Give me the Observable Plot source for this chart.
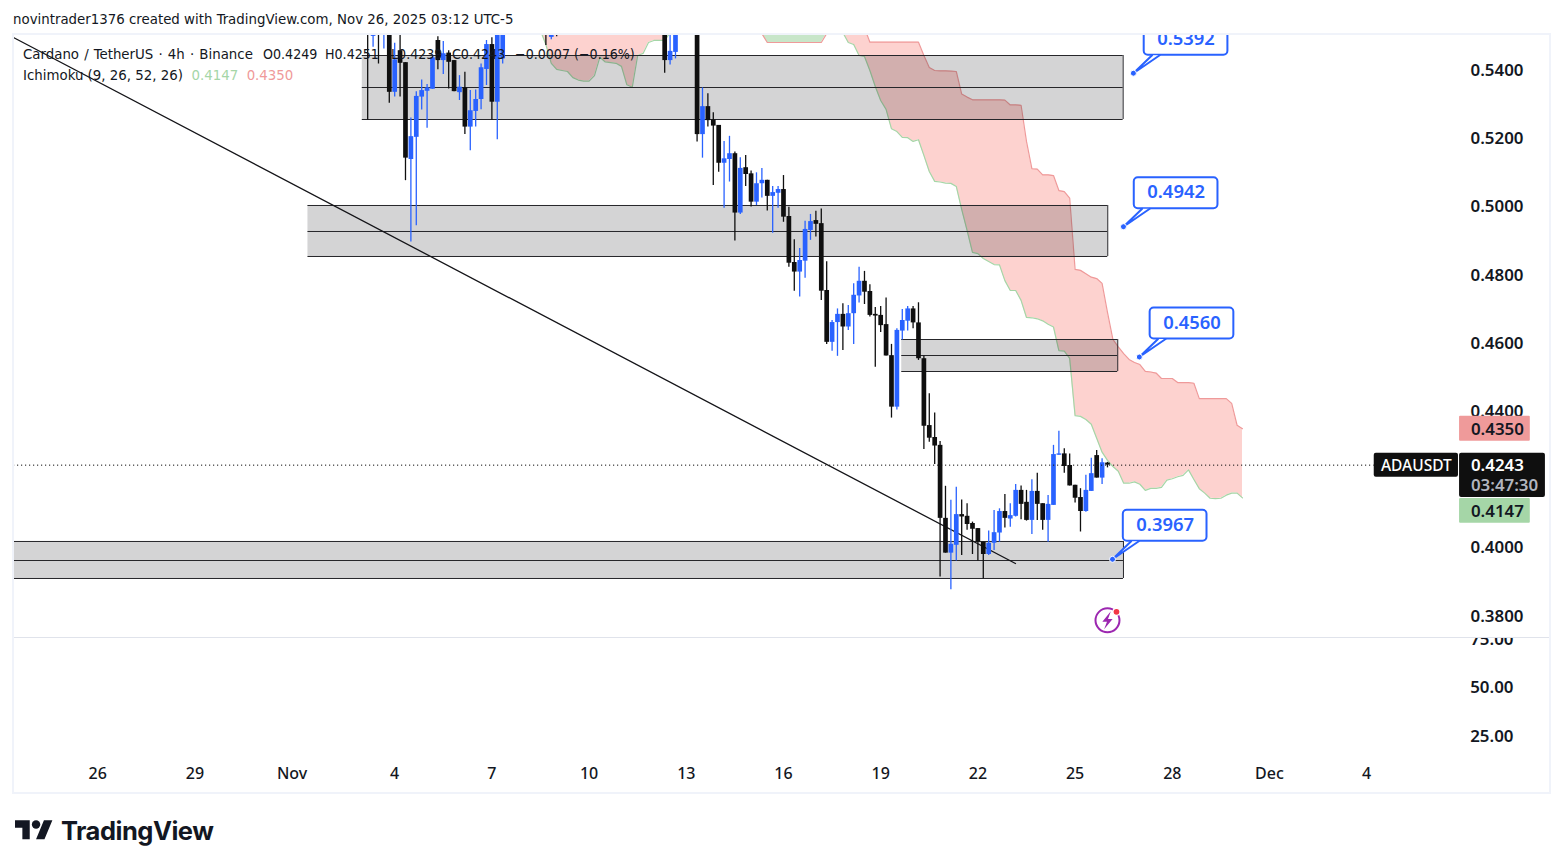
<!DOCTYPE html>
<html>
<head>
<meta charset="utf-8">
<script src="https://cdn.jsdelivr.net/npm/d3@7"></script>
<script src="https://cdn.jsdelivr.net/npm/@observablehq/plot@0.6"></script>
<style>
html,body{margin:0;padding:0;background:#fff;overflow:hidden}
#page{position:relative;width:1563px;height:868px;font-family:"Noto Sans",sans-serif;color:#131722}
#page svg{display:block}
#main{position:absolute;left:0;top:34px}
#lower{position:absolute;left:0;top:637px}
#frame{position:absolute;left:12px;top:33px;width:1535px;height:757px;border:2px solid #f0f3fa;pointer-events:none}
#sep{position:absolute;left:14px;width:1535px;top:637px;height:1px;background:#e0e3eb}
.t{position:absolute;white-space:pre;font-family:"DejaVu Sans Condensed","Noto Sans",sans-serif;font-size:14.85px;line-height:18px}
.v{font-size:14.1px}
#logo{position:absolute;left:15px;top:816px}
#word{position:absolute;left:61px;top:813px;font:700 25.5px/36px Inter,sans-serif;color:#131722;letter-spacing:-.5px}
</style>
</head>
<body>
<div id="page">
  <div class="t" style="left:13px;top:10px">novintrader1376 created with TradingView.com, Nov 26, 2025 03:12 UTC-5</div>
  <div id="main"></div>
  <div id="lower"></div>
  <div id="sep"></div>
  <div id="frame"></div>
  <div class="t" style="left:23px;top:45px;word-spacing:.9px">Cardano / TetherUS · 4h · Binance</div>
  <div class="t v" style="left:263px;top:45px">O0.4249</div>
  <div class="t v" style="left:325px;top:45px">H0.4251</div>
  <div class="t v" style="left:391px;top:45px">L0.4239</div>
  <div class="t v" style="left:452px;top:45px">C0.4243</div>
  <div class="t v" style="left:515px;top:45px">−0.0007 (−0.16%)</div>
  <div class="t" style="left:23px;top:66px">Ichimoku (9, 26, 52, 26)  <span style="color:#a5d6a7">0.4147</span>  <span style="color:#ef9a9a">0.4350</span></div>
  <svg id="logo" width="40" height="28" viewBox="0 0 38 26.4"><path fill="#131722" d="M14 22H7V11H0V4h14v18zM28 22h-8l7.5-18h8L28 22z"/><circle fill="#131722" cx="20" cy="8" r="4"/></svg>
  <div id="word">TradingView</div>
</div>
<script>
const candleBars = [-137,-136,-135,-134,-133,-132,-131,-130,-129,-128,-127,-126,-125,-124,-123,-122,-121,-120,-119,-118,-117,-116,-115,-114,-113,-112,
  -104,-103,-102,-82,-81,-80,
  -76,-75,-74,-73,-72,-71,-70,-69,-68,-67,-66,-65,-64,-63,-62,-61,-60,-59,-58,-57,-56,-55,-54,-53,-52,-51,-50,-49,-48,-47,-46,-45,-44,-43,-42,-41,-40,-39,-38,-37,-36,-35,-34,-33,-32,-31,-30,-29,-28,-27,-26,-25,-24,-23,-22,-21,-20,-19,-18,-17,-16,-15,-14,-13,-12,-11,-10,-9,-8,-7,-6,-5,-4,-3,-2,-1,0];
const candleOpen = [.556,.5500,.558,.553,.556,.5336,.5458,.5423,.5139,.5204,.5322,.5339,.5345,.5488,.5429,.5451,.5429,.5335,.5349,.5234,.5280,.5315,.5403,.5476,.5307,.5434,
  .556,.5497,.556,.556,.5429,.5453,
  .556,.5212,.5294,.5255,.5239,.5128,.5139,.5156,.4982,.5115,.5097,.5014,.5068,.5078,.5031,.5040,.5051,.4972,.4837,.4809,.4841,.4931,.4960,.4951,.4755,.4603,.4661,.4685,.4648,.4687,.4739,.4782,.4752,.4685,.4682,.4655,.4564,.4413,.4636,.4665,.4701,.4660,.4555,.4359,.4324,.4301,.4087,.3985,.4008,.4098,.4093,.4072,.4057,.4017,.3981,.4014,.4044,.4107,.4085,.4093,.4169,.4134,.4081,.4166,.4130,.4081,.4125,.4272,.4276,.4242,.4184,.4148,.4107,.4166,.4271,.4205,.4249];
const candleHigh = [.558,.558,.56,.56,.558,.5480,.552,.5423,.5261,.5338,.5372,.5359,.5445,.5499,.5485,.5458,.5429,.5385,.5395,.5341,.5343,.5419,.5488,.5496,.56,.56,
  .558,.558,.558,.558,.556,.558,
  .558,.5349,.5332,.5276,.5239,.5192,.5207,.5161,.5144,.5151,.5105,.5100,.5113,.5078,.5060,.5060,.5092,.4999,.4904,.4878,.4958,.4978,.4987,.4994,.4839,.4667,.4701,.4716,.4711,.4775,.4823,.4811,.4772,.4705,.4708,.4733,.4597,.4643,.4699,.4708,.4708,.4719,.4562,.4452,.4396,.4312,.4181,.4140,.4178,.4141,.4130,.4076,.4057,.4017,.4050,.4110,.4115,.4157,.4130,.4186,.4182,.4169,.4200,.4219,.4130,.4154,.4301,.4342,.4291,.4276,.4184,.4174,.4213,.4263,.4286,.4262,.4251];
const candleLow = [.5255,.5468,.5419,.5463,.5304,.5322,.5322,.5077,.4897,.4945,.5284,.5231,.5345,.5402,.5388,.5346,.5338,.5312,.5212,.5165,.5234,.5285,.5356,.5255,.5197,.5419,
  .5473,.5490,.5499,.5392,.5416,.5434,
  .5190,.5143,.5234,.5063,.5102,.4996,.5073,.4900,.4978,.5060,.5000,.5004,.5026,.4988,.4923,.4996,.4955,.4823,.4753,.4736,.4791,.4902,.4912,.4726,.4597,.4577,.4562,.4579,.4638,.4597,.4718,.4714,.4677,.4530,.4632,.4563,.4381,.4405,.4610,.4636,.4643,.4550,.4289,.4310,.4245,.3915,.3985,.3878,.3962,.3978,.4052,.3981,.3962,.3910,.3978,.3993,.4017,.4059,.4061,.4091,.4083,.4079,.4040,.4081,.4052,.4017,.4125,.4272,.4219,.4182,.4132,.4047,.4105,.4166,.4205,.4186,.4235];
const candleClose = [.5503,.556,.553,.558,.5336,.5431,.5421,.5143,.5206,.5324,.5341,.5349,.5437,.5429,.5449,.5424,.5338,.5351,.5234,.5282,.5315,.5408,.5476,.5307,.556,.556,
  .5503,.556,.5525,.5429,.5456,.556,
  .5212,.5294,.5253,.5237,.5128,.5141,.5156,.4982,.5113,.5095,.5014,.5068,.5078,.5031,.5042,.5051,.4970,.4835,.4809,.4843,.4934,.4957,.4949,.4753,.4603,.4661,.4685,.4648,.4687,.4741,.4782,.4750,.4682,.4680,.4652,.4563,.4413,.4638,.4667,.4701,.4660,.4555,.4357,.4322,.4299,.4087,.3985,.4011,.4098,.4091,.4069,.4055,.4017,.3981,.4014,.4045,.4107,.4087,.4095,.4169,.4128,.4081,.4166,.4128,.4081,.4128,.4274,.4276,.4239,.4182,.4146,.4107,.4169,.4218,.4205,.4250,.4243];

const leftCloudBars = [-105,-104,-103,-102,-101,-100,-99,-98,-97,-96,-95,-94,-93,-92,-91,-90,-89,-88,-87,-86,-85,-84,-83,-82,-81];
const leftCloudLower = [.5517,.5476,.5421,.5403,.5400,.5397,.5379,.5372,.5369,.5369,.5385,.5439,.5425,.5423,.5421,.5412,.5358,.5351,.5444,.5450,.5482,.5488,.5488,.5488,.5511];
const greenCloudBars = [-64,-63,-62,-61,-60,-59,-58,-57,-56,-55,-54,-53,-52];
const greenCloudLower = [.5508,.5482,.5482,.5482,.5482,.5482,.5482,.5482,.5482,.5482,.5482,.5482,.5508];
const cloudTopOffPane = .56;

const spanBars = [-49,-48,-47,-46,-45,-44,-43,-42,-41,-40,-39,-38,-37,-36,-35,-34,-33,-32,-31,-30,-29,-28,-27,-26,-25,-24,-23,-22,-21,-20,-19,-18,-17,-16,-15,-14,-13,-12,-11,-10,-9,-8,-7,-6,-5,-4,-3,-2,-1,0,1,2,3,4,5,6,7,8,9,10,11,12,13,14,15,16,17,18,19,20,21,22,23,24,25];
const spanA = [.5511,.5482,.5476,.5444,.5441,.5400,.5353,.5312,.5286,.5229,.5221,.5204,.5203,.5192,.5197,.5151,.5104,.5075,.5073,.5070,.5069,.5060,.4993,.4931,.4867,.4863,.4849,.4840,.4831,.4830,.4784,.4755,.4755,.4726,.4676,.4675,.4672,.4666,.4656,.4648,.4579,.4577,.4556,.4388,.4386,.4377,.4363,.4322,.4281,.4257,.4239,.4225,.4190,.4190,.4194,.4187,.4169,.4175,.4175,.4178,.4199,.4203,.4209,.4213,.4229,.4201,.4174,.4161,.4146,.4145,.4146,.4155,.4161,.4161,.4147];
const spanB = [.56,.56,.56,.56,.5525,.5483,.5483,.5483,.5483,.5483,.5483,.5483,.5483,.5483,.5483,.5444,.5409,.5400,.5399,.5399,.5398,.5397,.5331,.5322,.5314,.5314,.5314,.5314,.5314,.5314,.5313,.5299,.5299,.5298,.5192,.5112,.5111,.5094,.5094,.5092,.5048,.5045,.5026,.4817,.4814,.4804,.4794,.4790,.4776,.4691,.4612,.4590,.4570,.4553,.4544,.4538,.4518,.4516,.4513,.4497,.4497,.4497,.4485,.4485,.4485,.4483,.4438,.4438,.4438,.4438,.4438,.4438,.4424,.4360,.4350];

const zoneStart = [-138,-148.06,-38.1,-220];
const zoneEnd = [2.9,0.05,1.9,2.96];
const zoneTop = [.54439,.50042,.46113,.40192];
const zoneMid = [.53501,.49280,.45644,.39634];
const zoneBottom = [.52563,.48547,.45175,.39107];

const trendBars = [-202.6,-17.04];
const trendPrices = [.54967,.39547];

const calloutBars = [4.8,2.96,5.9,0.93];
const calloutPrices = [.5392,.4942,.4560,.3967];
const calloutLabels = ["0.5392","0.4942","0.4560","0.3967"];

const priceTicks = [.38,.40,.44,.46,.48,.50,.52,.54];
const rsiTicks = [25,50,75];
const timeTickBars = [-187,-169,-151,-132,-114,-96,-78,-60,-42,-24,-6,12,30,48];
const timeTickLabels = ["26","29","Nov","4","7","10","13","16","19","22","25","28","Dec","4"];

const tagPrices = [.4350,.4243,.4147];
const tagLabels = ["0.4350","0.4243","0.4147"];
const lastPrice = .4243;
const symbolLabel = "ADAUSDT";
const countdown = "03:47:30";
const flashBar = 0;
const flashPrice = .3788;

const black = "#0f0f0f", blue = "#2962ff", ink = "#131722";
const uiFont = "Noto Sans";
const axisFont = {fontFamily: uiFont, fontSize: 16, fontWeight: 500};
const priceFont = {fontFamily: uiFont, fontSize: 16.9, fontWeight: 600};
const xDomain = [-202.59, 77.04];

const candles = candleBars.map((i, k) => ({i, o: candleOpen[k], h: candleHigh[k], l: candleLow[k], c: candleClose[k]}));
const candleColor = d => d.c >= d.o ? blue : black;
const leftCloud = leftCloudBars.map((i, k) => ({i, lo: leftCloudLower[k], hi: cloudTopOffPane}));
const greenCloud = greenCloudBars.map((i, k) => ({i, lo: greenCloudLower[k], hi: cloudTopOffPane}));
const mainCloud = spanBars.map((i, k) => ({i, lo: spanA[k], hi: spanB[k]}));
const zones = zoneStart.map((s, k) => ({s, e: zoneEnd[k], t: zoneTop[k], m: zoneMid[k], b: zoneBottom[k]}));
const trend = trendBars.map((i, k) => ({i, p: trendPrices[k]}));
const callouts = calloutBars.map((i, k) => ({i, p: calloutPrices[k], label: calloutLabels[k]}));
const pointers = callouts.flatMap(d => [
  {key: d.label, i: d.i + 3.46, p: d.p + .00528},
  {key: d.label, i: d.i, p: d.p},
  {key: d.label, i: d.i + 4.87, p: d.p + .00528}
]);
const tags = tagPrices.map((p, k) => ({p, label: tagLabels[k]}));

const boltSymbol = {draw(ctx, size) {
  const s = Math.sqrt(size / Math.PI) / 7;
  const pts = [[2.6,-7],[-4,1],[-.4,1],[-2.6,7],[4,-1],[.4,-1]];
  pts.forEach(([x, y], k) => k ? ctx.lineTo(x * s, y * s) : ctx.moveTo(x * s, y * s));
  ctx.closePath();
}};

const zoneInk = {stroke: "#26262a", strokeWidth: 1, clip: true};

const main = Plot.plot({
  width: 1563, height: 603,
  marginLeft: 13, marginRight: 40, marginTop: 0, marginBottom: 0,
  x: {type: "linear", domain: xDomain, axis: null},
  y: {type: "linear", domain: [.37377, .55055], axis: null},
  style: {background: "transparent", overflow: "hidden"},
  marks: [
    Plot.areaY(leftCloud, {x: "i", y1: "lo", y2: "hi", fill: "#fdd2cf", clip: true}),
    Plot.areaY(greenCloud, {x: "i", y1: "lo", y2: "hi", fill: "#c8e6c9", clip: true}),
    Plot.areaY(mainCloud, {x: "i", y1: "lo", y2: "hi", fill: "#fdd2cf", clip: true}),
    Plot.line(leftCloud, {x: "i", y: "lo", stroke: "#a5d6a7", strokeWidth: 1.2, clip: true}),
    Plot.line(greenCloud, {x: "i", y: "lo", stroke: "#ef9a9a", strokeWidth: 1.2, clip: true}),
    Plot.line(mainCloud, {x: "i", y: "lo", stroke: "#a5d6a7", strokeWidth: 1.2, clip: true}),
    Plot.line(mainCloud, {x: "i", y: "hi", stroke: "#ef9a9a", strokeWidth: 1.2, clip: true}),

    Plot.rect(zones, {x1: "s", x2: "e", y1: "b", y2: "t", fill: "#1a1a1e", fillOpacity: .19, clip: true}),
    Plot.ruleY(zones, {y: "t", x1: "s", x2: "e", ...zoneInk}),
    Plot.ruleY(zones, {y: "m", x1: "s", x2: "e", ...zoneInk}),
    Plot.ruleY(zones, {y: "b", x1: "s", x2: "e", ...zoneInk}),
    Plot.ruleX(zones, {x: "e", y1: "b", y2: "t", ...zoneInk}),

    Plot.line(trend, {x: "i", y: "p", stroke: "#141418", strokeWidth: 1.3, clip: true}),

    Plot.ruleX(candles, {x: "i", y1: "l", y2: "h", stroke: candleColor, strokeWidth: 1.3, clip: true}),
    Plot.ruleX(candles, {x: "i", y1: "o", y2: "c", stroke: candleColor, strokeWidth: 4.7, clip: true}),

    Plot.ruleY([lastPrice], {x1: xDomain[0], x2: 49.4, stroke: black, strokeWidth: 1, strokeDasharray: "1.2 2.8"}),

    Plot.axisY(priceTicks, {anchor: "right", tickSize: 0, tickPadding: 0, textAnchor: "end", tickFormat: d => d.toFixed(4), label: null, fill: ink, ...priceFont}),

    Plot.rect(callouts, {x1: d => d.i + 2, x2: d => d.i + 17.5, y1: d => d.p + .00528, y2: d => d.p + .01437, fill: "white", stroke: blue, strokeWidth: 2, rx: 4, clip: true}),
    Plot.line(pointers, {x: "i", y: "p", z: "key", stroke: blue, strokeWidth: 2, fill: "white", clip: true}),
    Plot.dot(callouts, {x: "i", y: "p", r: 3, fill: blue, stroke: "white", strokeWidth: 1, clip: true}),
    Plot.text(callouts, {x: d => d.i + 9.75, y: d => d.p + .00982, dy: -.8, text: "label", fill: blue, fontFamily: uiFont, fontSize: 18.4, fontWeight: 600, clip: true}),

    Plot.dot([{i: flashBar, p: flashPrice}], {x: "i", y: "p", r: 12, stroke: "#9c27b0", strokeWidth: 2, fill: "white"}),
    Plot.dot([{i: flashBar, p: flashPrice}], {x: "i", y: "p", r: 9, symbol: boltSymbol, fill: "#9c27b0", stroke: "none"}),
    Plot.dot([{i: flashBar, p: flashPrice}], {x: "i", y: "p", dx: 9, dy: -8.5, r: 3.5, fill: "#f23645", stroke: "white", strokeWidth: 1.2}),

    Plot.rect([tags[0]], {x1: 65.2, x2: 78.3, y1: d => d.p - .00366, y2: d => d.p + .00366, fill: "#ef9a9a", rx: 1}),
    Plot.rect([tags[1]], {x1: 65.2, x2: 81.1, y1: d => d.p - .00950, y2: d => d.p + .00352, fill: black, rx: 2}),
    Plot.rect([tags[2]], {x1: 65.2, x2: 78.3, dy: 13, y1: d => d.p - .00366, y2: d => d.p + .00366, fill: "#a5d6a7", rx: 1}),
    Plot.rect([lastPrice], {x1: 49.4, x2: 65, y1: d => d - .00352, y2: d => d + .00352, fill: black, rx: 2}),
    Plot.text([lastPrice], {x: 57.2, y: d => d, dy: .8, text: () => symbolLabel, fill: "white", fontFamily: uiFont, fontSize: 15.5, fontWeight: 500}),
    Plot.text([tags[0]], {x: 67.3, y: "p", dy: .5, text: "label", textAnchor: "start", fill: ink, ...priceFont}),
    Plot.text([tags[1]], {x: 67.3, y: "p", dy: .3, text: "label", textAnchor: "start", fill: "white", ...priceFont}),
    Plot.text([tags[2]], {x: 67.3, y: "p", dy: 13.3, text: "label", textAnchor: "start", fill: ink, ...priceFont}),
    Plot.text([lastPrice], {x: 67.3, y: d => d, dy: 20.8, text: () => countdown, textAnchor: "start", fill: "#b2b5be", ...priceFont})
  ]
});
document.getElementById("main").append(main);

const lower = Plot.plot({
  width: 1563, height: 156,
  marginLeft: 13, marginRight: 40, marginTop: 0, marginBottom: 0,
  x: {type: "linear", domain: xDomain, axis: null},
  y: {type: "linear", domain: [-4.6, 76], range: [156, 0], axis: null},
  style: {background: "transparent", overflow: "hidden"},
  marks: [
    Plot.axisY(rsiTicks, {anchor: "right", tickSize: 0, tickPadding: 0, textAnchor: "end", dx: -10, tickFormat: d => d.toFixed(2), label: null, fill: ink, ...priceFont}),
    Plot.text(timeTickBars, {x: d => d, y: -4.6, dy: -19.5, text: (d) => timeTickLabels[timeTickBars.indexOf(d)], fill: ink, ...axisFont})
  ]
});
document.getElementById("lower").append(lower);
</script>
</body>
</html>
